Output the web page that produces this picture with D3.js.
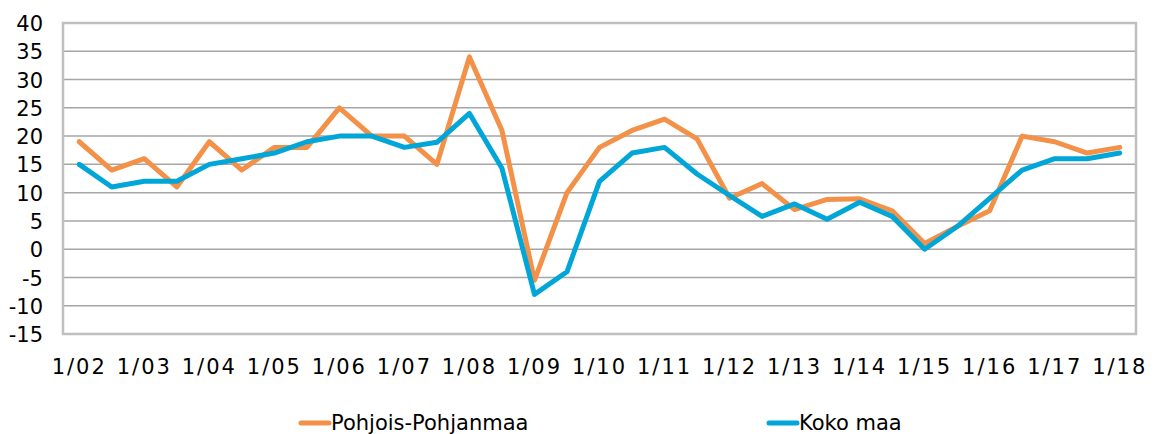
<!DOCTYPE html>
<html><head><meta charset="utf-8">
<script src="https://cdn.jsdelivr.net/npm/d3@7"></script>
<style>body{margin:0;background:#fff}svg{display:block}text{font-family:"DejaVu Sans",sans-serif;fill:#000}</style>
</head><body>
<script>
const periods = ["1/02","7/02","1/03","7/03","1/04","7/04","1/05","7/05","1/06","7/06","1/07","7/07","1/08","7/08","1/09","7/09","1/10","7/10","1/11","7/11","1/12","7/12","1/13","7/13","1/14","7/14","1/15","7/15","1/16","7/16","1/17","7/17","1/18"];
const pohjoisPohjanmaa = [19,14,16,11,19,14,18,18,25,20,20,15,34,21,-5.5,10,18,21,23,19.5,9,11.6,7,8.8,8.9,6.8,1,4,6.8,20,19,17,18];
const kokoMaa = [15,11,12,12,15,16,17,19,20,20,18,18.9,24,14.3,-8,-4,12,17,18,13.3,9.5,5.8,8,5.3,8.3,5.8,0,4,9,14,16,16,17];
const yTicks = [-15,-10,-5,0,5,10,15,20,25,30,35,40];
const xTickLabels = ["1/02","1/03","1/04","1/05","1/06","1/07","1/08","1/09","1/10","1/11","1/12","1/13","1/14","1/15","1/16","1/17","1/18"];
const seriesNames = ["Pohjois-Pohjanmaa","Koko maa"];
const colors = ["#F39149","#00A6D8"];

const W=1159,H=434, L=63,R=1136,T=23,B=334;
const svg=d3.select("body").append("svg").attr("width",W).attr("height",H);
const x=d3.scaleBand().domain(periods).range([L,R]);
const y=d3.scaleLinear().domain([-15,40]).range([B,T]);
const cx=p=>x(p)+x.bandwidth()/2;

// gridlines
svg.append("g").selectAll("line").data(yTicks).join("line")
  .attr("x1",L).attr("x2",R).attr("y1",d=>y(d)).attr("y2",d=>y(d))
  .attr("stroke","#a6a6a6").attr("stroke-width",1.5);
// frame
svg.append("rect").attr("x",L).attr("y",T).attr("width",R-L).attr("height",B-T)
  .attr("fill","none").attr("stroke","#bfbfbf").attr("stroke-width",2.5);

// y axis labels
const yAxis=d3.axisLeft(y).tickValues(yTicks).tickSize(0).tickPadding(20).tickFormat(d=>String(d));
const gy=svg.append("g").attr("transform",`translate(${L},0)`).call(yAxis);
gy.select(".domain").remove();
gy.selectAll("text").attr("font-size",21).attr("fill","#000").attr("dy","0.36em");

// x axis labels
const xAxis=d3.axisBottom(x).tickValues(xTickLabels).tickSize(0).tickPadding(0);
const gx=svg.append("g").attr("transform",`translate(0,${B})`).call(xAxis);
gx.select(".domain").remove();
gx.selectAll("text").attr("font-size",21).attr("fill","#000").attr("dy","0").attr("y",40).style("letter-spacing","2px");

// lines
const line=d3.line().x((d,i)=>cx(periods[i])).y(d=>y(d));
[pohjoisPohjanmaa,kokoMaa].forEach((s,i)=>{
  svg.append("path").datum(s).attr("d",line).attr("fill","none")
    .attr("stroke",colors[i]).attr("stroke-width",5).attr("stroke-linejoin","round").attr("stroke-linecap","round");
});

// legend
const legX=[301,769], legY=423;
seriesNames.forEach((n,i)=>{
  svg.append("line").attr("x1",legX[i]).attr("x2",legX[i]+28).attr("y1",legY).attr("y2",legY)
    .attr("stroke",colors[i]).attr("stroke-width",5).attr("stroke-linecap","round");
  svg.append("text").attr("x",legX[i]+30).attr("y",legY+7).attr("font-size",21).text(n);
});
</script>
</body></html>
